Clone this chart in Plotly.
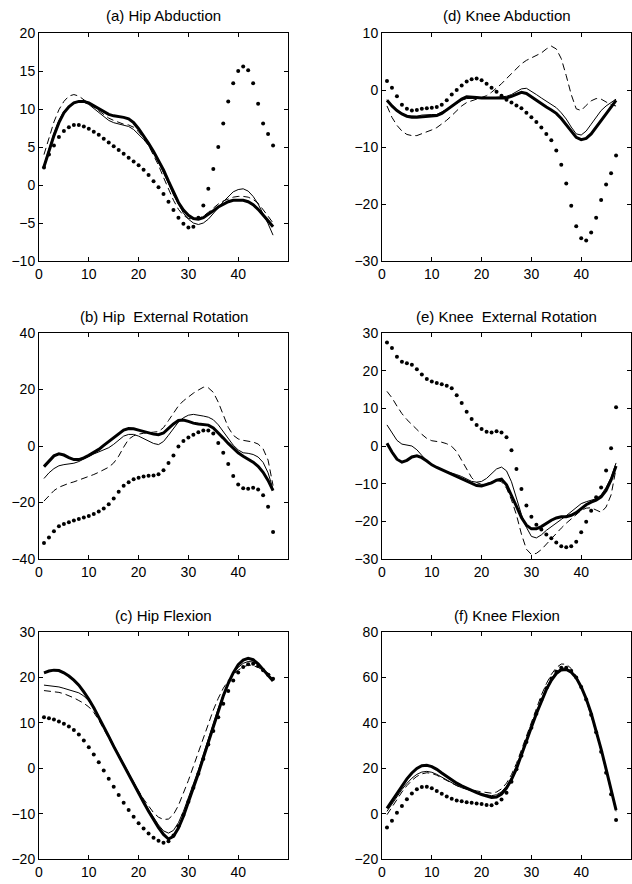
import plotly.graph_objects as go

x = list(range(1, 48))

# (a) Hip Abduction
a_thick = [2.4, 4.5, 6.5, 8.2, 9.5, 10.3, 10.8, 11.0, 11.0, 10.8, 10.4, 10.0, 9.6, 9.3, 9.1, 9.0, 8.9, 8.7, 8.2, 7.4, 6.5, 5.5, 4.4, 3.2, 2.0, 0.5, -1.0, -2.3, -3.3, -4.0, -4.4, -4.5, -4.3, -3.9, -3.4, -2.9, -2.5, -2.2, -2.0, -2.0, -2.0, -2.2, -2.6, -3.2, -3.9, -4.7, -5.5]
a_thin = [2.6, 4.7, 6.8, 8.5, 9.7, 10.4, 10.8, 10.9, 10.9, 10.6, 10.1, 9.5, 9.0, 8.5, 8.2, 8.0, 7.9, 7.7, 7.3, 6.7, 6.0, 5.2, 4.2, 3.0, 1.7, 0.2, -1.3, -2.6, -3.7, -4.5, -5.0, -5.2, -5.0, -4.5, -3.8, -3.0, -2.2, -1.5, -0.9, -0.6, -0.5, -0.8, -1.5, -2.5, -3.7, -5.1, -6.6]
a_dash = [4.0, 6.3, 8.3, 9.9, 11.0, 11.7, 11.9, 11.7, 11.2, 10.7, 10.2, 9.7, 9.2, 8.8, 8.5, 8.2, 8.0, 7.9, 7.6, 7.0, 6.2, 5.2, 4.0, 2.6, 1.0, -0.5, -2.0, -3.2, -4.0, -4.4, -4.5, -4.4, -4.1, -3.6, -3.0, -2.5, -2.1, -1.8, -1.6, -1.5, -1.5, -1.6, -1.9, -2.4, -3.2, -4.1, -5.0]
a_dot = [2.3, 4.0, 5.2, 6.3, 7.1, 7.6, 7.9, 7.9, 7.7, 7.4, 7.0, 6.6, 6.1, 5.6, 5.1, 4.6, 4.1, 3.6, 3.1, 2.6, 2.0, 1.3, 0.5, -0.3, -1.2, -2.2, -3.3, -4.3, -5.1, -5.6, -5.5, -4.3, -2.7, -0.5, 2.1, 5.0, 8.1, 11.0, 13.4, 15.0, 15.6, 15.1, 13.4, 10.7, 8.1, 6.7, 5.2]

# (b) Hip External Rotation
b_thick = [-7.3, -5.3, -3.5, -2.8, -3.2, -4.1, -4.8, -4.8, -4.2, -3.3, -2.3, -1.2, 0.2, 1.6, 3.0, 4.3, 5.6, 6.2, 6.1, 5.6, 5.1, 4.7, 4.2, 4.0, 4.6, 6.2, 7.8, 9.0, 9.2, 8.7, 8.1, 7.8, 7.7, 7.4, 6.4, 4.7, 2.8, 0.9, -0.9, -2.4, -3.6, -4.6, -5.7, -7.2, -9.3, -12.2, -15.8]
b_thin = [-11.5, -9.5, -8.0, -7.0, -6.6, -6.4, -6.1, -5.5, -4.6, -3.6, -2.8, -2.1, -1.4, -0.6, 0.6, 2.0, 3.5, 4.1, 4.1, 3.5, 2.7, 1.8, 0.9, 0.5, 1.6, 3.8, 6.3, 8.5, 10.0, 10.9, 11.2, 11.0, 10.6, 10.2, 9.3, 7.5, 5.0, 2.5, 0.3, -1.4, -2.4, -2.6, -3.0, -3.9, -5.8, -9.5, -15.3]
b_dash = [-19.5, -17.5, -15.8, -14.6, -13.8, -13.2, -12.7, -12.1, -11.5, -10.8, -10.1, -9.3, -8.5, -7.5, -6.0, -3.6, -0.4, 2.4, 3.6, 4.2, 4.5, 4.8, 4.9, 5.1, 6.5, 9.0, 11.8, 14.2, 16.0, 17.5, 18.7, 19.8, 20.8, 20.6, 19.0, 15.5, 10.8, 6.6, 3.8, 2.5, 2.0, 1.8, 1.4, 0.7, -1.0, -5.0, -14.0]
b_dot = [-34.3, -32.4, -30.2, -28.4, -27.6, -27.0, -26.4, -25.8, -25.3, -24.8, -24.1, -23.2, -22.1, -20.6, -18.6, -16.2, -14.1, -12.8, -11.8, -11.2, -10.8, -10.5, -10.4, -10.0, -8.6, -6.0, -3.4, -0.2, 1.8, 3.0, 4.0, 4.9, 5.5, 5.5, 4.4, 1.1, -2.4, -6.4, -10.6, -13.6, -15.0, -15.1, -14.8, -15.4, -17.4, -21.5, -30.4]

# (c) Hip Flexion
c_thick = [21.0, 21.4, 21.6, 21.5, 21.0, 20.3, 19.4, 18.3, 16.8, 15.2, 13.3, 11.3, 9.2, 7.0, 4.8, 2.7, 0.6, -1.5, -3.5, -5.5, -7.5, -9.5, -11.4, -13.1, -14.6, -15.6, -15.0, -13.2, -10.6, -7.6, -4.5, -1.2, 2.3, 5.8, 9.3, 12.7, 15.9, 18.7, 21.0, 22.8, 23.8, 24.2, 23.9, 23.0, 21.8, 20.5, 19.2]
c_thin = [18.3, 18.2, 18.1, 17.9, 17.6, 17.3, 17.0, 16.6, 15.9, 14.8, 13.2, 11.3, 9.3, 7.2, 5.1, 3.0, 0.9, -1.2, -3.2, -5.2, -7.2, -9.1, -10.9, -12.5, -13.8, -14.3, -13.7, -12.0, -9.5, -6.6, -3.6, -0.4, 3.0, 6.5, 9.9, 13.2, 16.2, 18.8, 20.8, 22.2, 23.1, 23.5, 23.4, 22.8, 21.8, 20.7, 19.5]
c_dash = [17.1, 17.0, 16.9, 16.7, 16.4, 16.0, 15.5, 14.9, 14.3, 13.5, 12.3, 10.6, 8.7, 6.7, 4.7, 2.7, 0.7, -1.3, -3.2, -5.0, -6.8, -8.4, -9.8, -10.8, -11.3, -11.2, -10.2, -8.2, -5.6, -2.7, 0.4, 3.6, 6.8, 9.9, 12.8, 15.4, 17.6, 19.3, 20.6, 21.6, 22.3, 22.7, 22.6, 22.2, 21.6, 20.9, 20.3]
c_dot = [11.2, 11.0, 10.7, 10.3, 9.8, 9.2, 8.4, 7.4, 6.1, 4.6, 3.0, 1.3, -0.5, -2.3, -4.1, -5.9, -7.6, -9.2, -10.7, -12.1, -13.3, -14.4, -15.3, -16.0, -16.4, -16.1, -14.8, -12.8, -10.3, -7.4, -4.3, -1.2, 2.0, 5.2, 8.2, 11.2, 14.2, 17.0, 19.3, 21.1, 22.3, 22.9, 23.0, 22.5, 21.6, 20.6, 19.7]

# (d) Knee Abduction
d_thick = [-1.8, -2.8, -3.6, -4.2, -4.6, -4.8, -4.8, -4.7, -4.6, -4.6, -4.5, -4.1, -3.5, -2.9, -2.2, -1.6, -1.2, -1.2, -1.3, -1.4, -1.4, -1.5, -1.5, -1.5, -1.4, -1.1, -0.7, -0.4, -0.6, -1.2, -1.9, -2.5, -3.0, -3.5, -4.1, -5.0, -6.1, -7.3, -8.3, -8.7, -8.5, -7.7, -6.6, -5.4, -4.2, -3.0, -1.8]
d_thin = [-1.7, -2.7, -3.5, -4.1, -4.5, -4.6, -4.6, -4.4, -4.3, -4.3, -4.3, -3.9, -3.4, -2.9, -2.3, -1.8, -1.5, -1.5, -1.5, -1.5, -1.5, -1.4, -1.3, -1.2, -1.1, -0.8, -0.3, 0.2, 0.3, -0.2, -0.8, -1.4, -2.0, -2.5, -3.1, -4.0, -5.1, -6.5, -7.7, -7.9, -7.2, -6.0, -4.7, -3.6, -2.8, -2.2, -1.6]
d_dash = [-2.8, -4.8, -6.2, -7.2, -7.8, -8.0, -8.0, -7.7, -7.4, -7.0, -6.6, -6.0, -5.3, -4.5, -3.6, -2.8, -2.2, -1.9, -1.7, -1.4, -1.0, -0.4, 0.3, 1.1, 2.0, 2.9, 3.8, 4.6, 5.2, 5.6, 6.0, 6.5, 7.2, 7.7, 7.2, 5.5, 2.5, -0.8, -3.3, -3.6, -2.7, -1.9, -1.5, -1.6, -2.1, -2.6, -2.8]
d_dot = [1.6, 0.4, -1.1, -2.6, -3.3, -3.6, -3.5, -3.3, -3.2, -3.1, -3.0, -2.6, -1.8, -0.8, 0.0, 0.8, 1.5, 1.9, 2.0, 1.7, 1.1, 0.4, -0.3, -1.0, -1.7, -2.2, -2.7, -3.2, -4.0, -4.8, -5.6, -6.6, -7.7, -8.8, -10.6, -13.1, -16.4, -20.3, -23.9, -26.0, -26.4, -25.0, -22.4, -19.3, -16.6, -14.6, -11.5]

# (e) Knee External Rotation
e_thick = [0.7, -1.6, -3.5, -4.3, -3.8, -2.9, -2.6, -3.1, -4.0, -5.0, -5.7, -6.3, -6.9, -7.5, -8.1, -8.7, -9.4, -10.0, -10.5, -10.6, -10.3, -9.8, -9.1, -8.8, -10.3, -13.0, -16.0, -19.0, -21.0, -22.0, -22.0, -21.4, -20.5, -19.7, -19.1, -18.8, -18.8, -18.4, -17.7, -16.6, -15.6, -14.9, -14.4, -13.5, -11.8, -9.0, -5.3]
e_thin = [5.6, 3.4, 1.5, 0.5, 0.3, 0.0, -1.0, -2.6, -4.0, -5.0, -5.8, -6.4, -6.8, -7.1, -7.6, -8.1, -8.8, -9.4, -9.6, -9.4, -8.6, -7.3, -6.1, -5.6, -6.6, -9.5, -14.0, -18.2, -21.6, -24.0, -24.4, -23.6, -22.4, -21.5, -20.5, -19.5, -18.5, -17.5, -16.3, -15.3, -14.8, -14.5, -14.0, -13.0, -11.0, -8.4, -4.5]
e_dash = [14.5, 12.8, 10.6, 8.6, 7.0, 5.6, 4.4, 3.1, 2.0, 1.4, 1.2, 1.0, 0.6, -0.1, -1.5, -3.8, -6.3, -8.4, -9.7, -10.2, -10.0, -9.5, -9.1, -9.5, -11.2, -14.3, -18.3, -23.4, -27.4, -28.8, -28.5, -27.5, -26.0, -24.5, -23.2, -21.8, -20.5, -19.3, -18.1, -17.1, -16.5, -16.4, -17.0, -17.6, -16.2, -13.0, -6.0]
e_dot = [27.5, 26.0, 23.7, 22.4, 22.0, 21.6, 20.4, 19.0, 17.8, 17.1, 16.7, 16.4, 16.0, 15.3, 13.5, 11.4, 9.1, 7.2, 5.6, 4.5, 3.8, 3.6, 3.9, 3.6, 2.3, -1.1, -6.1, -11.4, -15.8, -18.8, -20.9, -22.2, -23.5, -24.5, -25.6, -26.6, -26.9, -26.6, -25.4, -22.9, -20.1, -17.2, -13.6, -11.0, -6.5, -0.6, 10.3]

# (f) Knee Flexion
f_thick = [2.3, 5.6, 9.0, 12.3, 15.3, 17.9, 19.9, 21.1, 21.3, 20.7, 19.5, 17.9, 16.3, 14.8, 13.4, 12.2, 11.1, 10.1, 9.2, 8.4, 7.7, 7.1, 7.3, 8.6, 11.2, 15.0, 19.8, 25.6, 31.8, 38.0, 44.0, 49.6, 54.6, 58.7, 61.7, 63.3, 63.5, 62.3, 59.8, 55.8, 50.6, 44.2, 36.7, 28.4, 19.6, 10.6, 1.5]
f_thin = [1.0, 4.2, 7.6, 10.6, 13.3, 15.6, 17.3, 18.3, 18.6, 18.2, 17.3, 16.0, 14.7, 13.5, 12.4, 11.4, 10.6, 9.9, 9.3, 8.7, 8.2, 7.9, 8.3, 9.6, 12.1, 15.9, 20.8, 26.6, 32.8, 39.0, 45.0, 50.6, 55.5, 59.5, 62.5, 64.0, 64.1, 62.8, 60.1, 56.0, 50.6, 44.1, 36.6, 28.2, 19.4, 10.4, 1.4]
f_dash = [-0.5, 2.8, 6.3, 9.5, 12.3, 14.6, 16.4, 17.5, 18.0, 17.7, 16.9, 15.7, 14.4, 13.3, 12.3, 11.5, 10.9, 10.4, 10.0, 9.6, 9.2, 9.0, 9.5, 10.9, 13.4, 17.2, 22.1, 28.0, 34.3, 40.5, 46.5, 52.2, 57.2, 61.3, 64.3, 65.9, 65.8, 63.9, 60.5, 55.8, 50.0, 43.3, 35.8, 27.5, 18.8, 9.9, 1.0]
f_dot = [-6.1, -3.1, 0.4, 3.4, 6.3, 8.9, 10.7, 11.7, 11.8, 11.2, 10.0, 8.7, 7.5, 6.5, 5.8, 5.4, 5.0, 4.8, 4.5, 4.2, 3.8, 3.7, 4.6, 6.2, 9.2, 14.0, 19.5, 25.5, 31.5, 37.8, 44.0, 50.0, 55.2, 59.5, 62.5, 64.2, 64.3, 62.8, 60.0, 55.8, 50.3, 43.5, 35.8, 27.2, 18.0, 8.5, -2.8]

titles = ["(a) Hip Abduction", "(b) Hip  External Rotation", "(c) Hip Flexion",
          "(d) Knee Abduction", "(e) Knee  External Rotation", "(f) Knee Flexion"]
x_ticks = [0, 10, 20, 30, 40]
y_ranges = [[-10, 20], [-40, 40], [-20, 30], [-30, 10], [-30, 30], [-20, 80]]
y_ticks = [[-10, -5, 0, 5, 10, 15, 20], [-40, -20, 0, 20, 40], [-20, -10, 0, 10, 20, 30],
           [-30, -20, -10, 0, 10], [-30, -20, -10, 0, 10, 20, 30], [-20, 0, 20, 40, 60, 80]]

panels = [
    (a_thick, a_thin, a_dash, a_dot),
    (b_thick, b_thin, b_dash, b_dot),
    (c_thick, c_thin, c_dash, c_dot),
    (d_thick, d_thin, d_dash, d_dot),
    (e_thick, e_thin, e_dash, e_dot),
    (f_thick, f_thin, f_dash, f_dot),
]

W, H = 632, 884
# plot-area pixel boxes (left, right, top, bottom)
col_x = [(39, 288), (382, 631)]
row_y = [(33, 261), (333, 559), (632, 859)]
title_y = [15, 316, 615]

fig = go.Figure()
layout = dict(
    template="none",
    width=W, height=H, margin=dict(l=0, r=0, t=0, b=0, pad=0, autoexpand=False),
    paper_bgcolor="white", plot_bgcolor="white", showlegend=False,
    font=dict(family="Liberation Sans, Arial, sans-serif", size=14, color="black"),
)
annotations = []
for i, (thick, thin, dash, dot) in enumerate(panels):
    col = i // 3
    row = i % 3
    n = i + 1
    xa = "x" if n == 1 else f"x{n}"
    ya = "y" if n == 1 else f"y{n}"
    fig.add_trace(go.Scatter(x=x, y=dot, mode="markers", xaxis=xa, yaxis=ya,
                             marker=dict(color="black", size=4, line=dict(width=0))))
    fig.add_trace(go.Scatter(x=x, y=dash, mode="lines", xaxis=xa, yaxis=ya,
                             line=dict(color="black", width=1, dash="7px,4px")))
    fig.add_trace(go.Scatter(x=x, y=thin, mode="lines", xaxis=xa, yaxis=ya,
                             line=dict(color="black", width=1)))
    fig.add_trace(go.Scatter(x=x, y=thick, mode="lines", xaxis=xa, yaxis=ya,
                             line=dict(color="black", width=3)))
    x0, x1 = col_x[col]
    y0, y1 = row_y[row]
    axcommon = dict(showline=True, linecolor="black", linewidth=1, mirror="allticks",
                    ticks="inside", ticklen=4, tickcolor="black", tickwidth=1,
                    showgrid=False, zeroline=False, automargin=False,
                    tickfont=dict(size=14))
    layout["xaxis" if n == 1 else f"xaxis{n}"] = dict(
        domain=[x0 / W, x1 / W], range=[0, 50], tickvals=x_ticks,
        anchor=ya, **axcommon)
    layout["yaxis" if n == 1 else f"yaxis{n}"] = dict(
        domain=[1 - y1 / H, 1 - y0 / H], range=y_ranges[i], tickvals=y_ticks[i],
        anchor=xa, **axcommon)
    annotations.append(dict(text=titles[i], xref="paper", yref="paper",
                            x=(x0 + x1) / 2 / W, y=1 - title_y[row] / H,
                            xanchor="center", yanchor="middle", showarrow=False,
                            font=dict(size=15)))
layout["annotations"] = annotations
fig.update_layout(**layout)
fig.write_html("out.html", config={"displayModeBar": False},
               post_script="document.body.style.margin='0';document.body.style.overflow='hidden';")
